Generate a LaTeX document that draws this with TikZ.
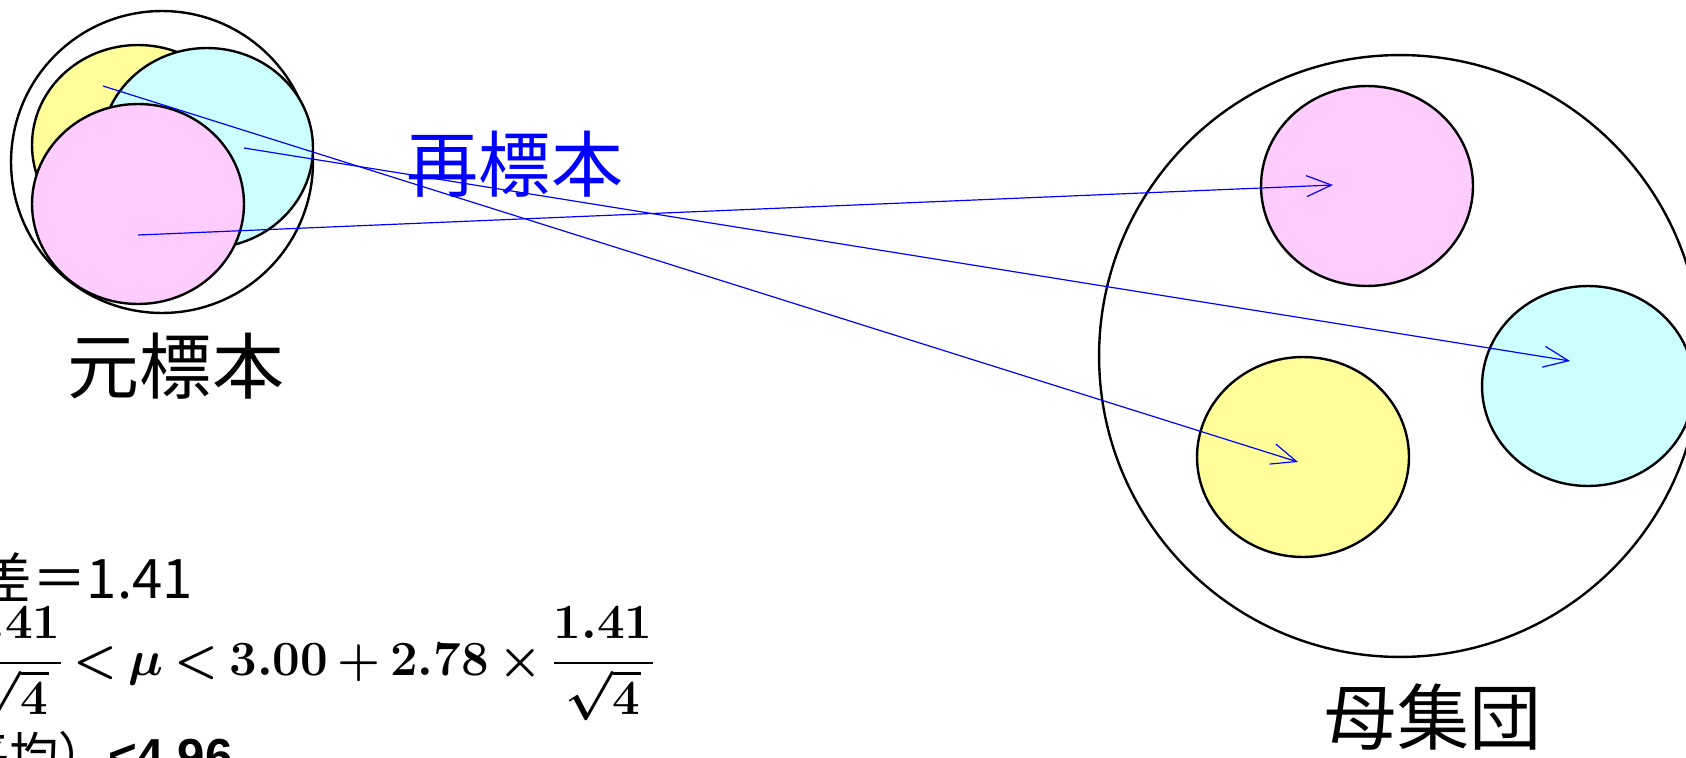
\RequirePackage{fix-cm}
\documentclass[tikz,border=0pt]{standalone}
\usepackage[no-math]{fontspec}
\usepackage{amsmath}
\newfontfamily\jp{Noto Sans CJK JP}
\newfontfamily\lsans{Liberation Sans}
\usetikzlibrary{shapes.geometric,arrows.meta}
\definecolor{samplepink}{HTML}{FFCCFF}
\definecolor{samplecyan}{HTML}{CCFFFF}
\definecolor{sampleyellow}{HTML}{FFFF99}

\begin{document}
\begin{tikzpicture}[
  x=0.02cm, y=-0.02cm,
  pool/.style={draw, circle, line width=1.36pt, inner sep=0},
  sample/.style={draw, ellipse, line width=1.36pt, minimum width=4.24cm, minimum height=4cm, inner sep=0},
  resample/.style={blue, line width=0.68pt, -{Straight Barb[length=0.5cm, width=0.42cm]}},
  title/.style={font=\jp\fontsize{41pt}{41pt}\selectfont, inner sep=0, anchor=base}
]
\useasboundingbox (0,0) rectangle (1686,757);
\clip (0,0) rectangle (1686,757);

% original sample: three overlapping draws inside one circle
\node[pool, minimum size=6.04cm] (orig) at (162,162) {};
\foreach \nm/\col/\x/\y in {origYellow/sampleyellow/138/145, origCyan/samplecyan/207/148, origPink/samplepink/138/204}
  \node[sample, fill=\col] (\nm) at (\x,\y) {};

% population with the three resamples spread out
\node[pool, minimum size=12.04cm] (pop) at (1400,356) {};
\foreach \nm/\col/\x/\y in {popPink/samplepink/1367/186, popCyan/samplecyan/1588/386, popYellow/sampleyellow/1303/457}
  \node[sample, fill=\col] (\nm) at (\x,\y) {};

\node[title] (origLabel) at (176,393) {元標本};
\node[title, text=blue] (reLabel) at (515,191) {再標本};
\node[title] (popLabel) at (1433,744) {母集団};

% arrow ends inside each ellipse
\coordinate (fromPink) at (138,235);
\coordinate (fromCyan) at (244,148);
\coordinate (fromYellow) at (103,86);
\coordinate (toPink) at (1333,185);
\coordinate (toCyan) at (1570,361);
\coordinate (toYellow) at (1298,462);
\foreach \c in {Pink, Cyan, Yellow}
  \draw[resample] (from\c) -- (to\c);

% confidence interval text, cut off at the left edge
\node[anchor=base east, inner sep=0, font=\jp\fontsize{31pt}{31pt}\selectfont] (sd) at (193,598) {標準偏差＝1.41};
\node[anchor=base east, inner sep=0, font=\fontsize{28pt}{28pt}\selectfont\boldmath] (ci) at (655,675)
  {$\thickmuskip=3.5mu \medmuskip=3mu
    \displaystyle 3.00-2.78\times\frac{1.41}{\sqrt{4}}<\mu<3.00+2.78\times\frac{1.41}{\sqrt{4}}$};
\node[anchor=base east, inner sep=0, font=\fontsize{28pt}{28pt}\selectfont] (range) at (233,773)
  {{\lsans\bfseries 1.04<μ}{\jp（母平均）}{\lsans\bfseries <4.96}};
\end{tikzpicture}
\end{document}
